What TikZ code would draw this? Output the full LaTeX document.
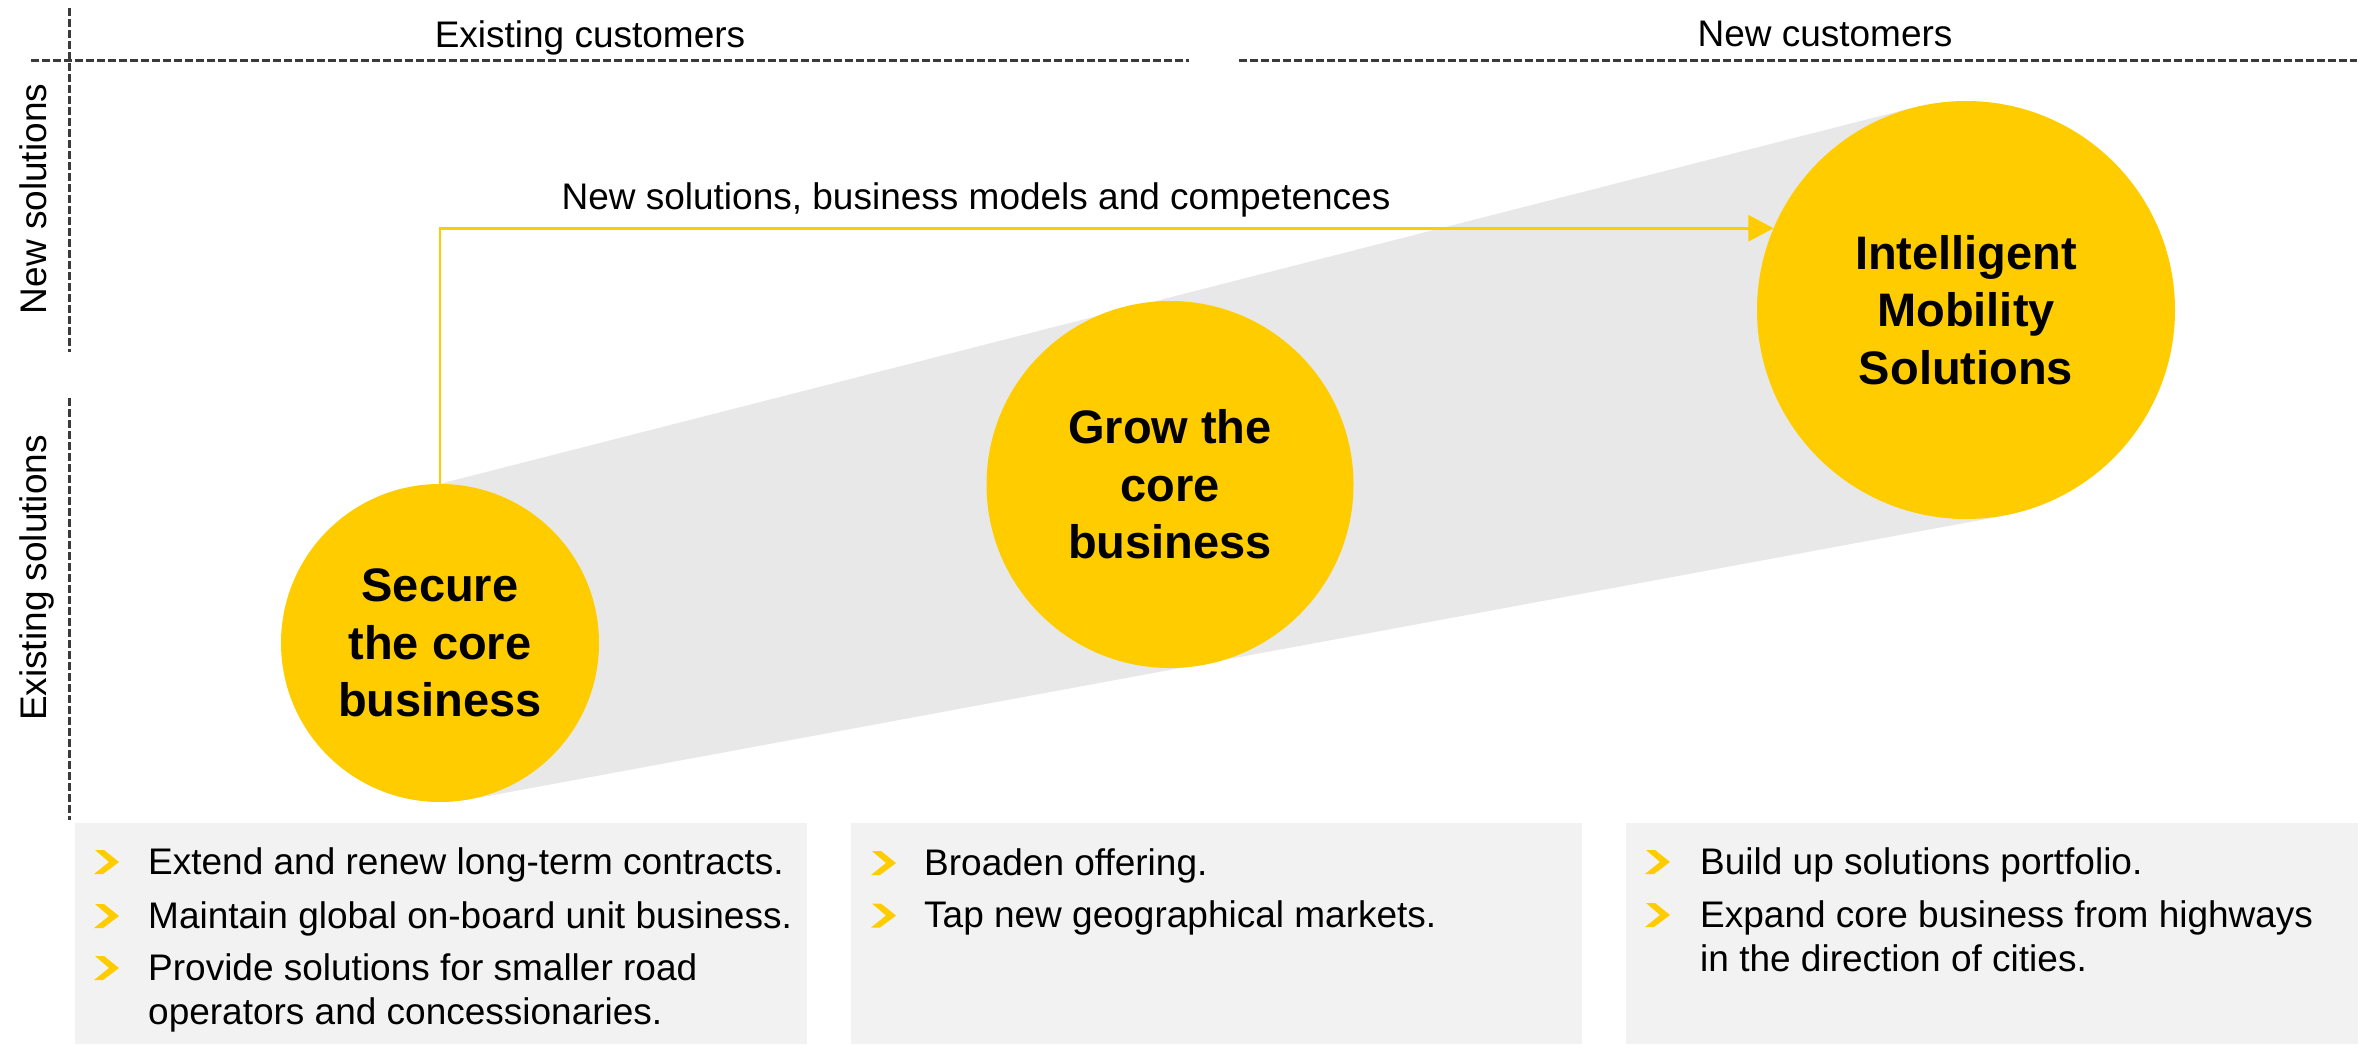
\documentclass[tikz,border=0pt]{standalone}
\usepackage{fontspec}
\setmainfont{Liberation Sans}
\usetikzlibrary{arrows.meta,backgrounds}
\definecolor{ylw}{HTML}{FFCC00}
\definecolor{bandgray}{HTML}{E8E8E8}
\definecolor{boxgray}{HTML}{F2F2F2}
\definecolor{dashgray}{HTML}{3A3A3A}
\newcommand{\chevron}[2]{%
  \fill[ylw] (#1+1,#2-24) -- (#1+10,#2-24) -- (#1+25,#2-12) -- (#1+9,#2) -- (#1,#2) -- (#1+15,#2-12) -- cycle;}
\begin{document}
\begin{tikzpicture}[x=1pt,y=-1pt,
  guide/.style={draw=dashgray,line width=3pt,dash pattern=on 7.5pt off 3.5pt},
  lbl/.style={font=\fontsize{37}{44.5}\selectfont,inner sep=0pt,anchor=base},
  side/.style={lbl,rotate=90},
  stage/.style={circle,fill=ylw,inner sep=0pt,font=\fontsize{47}{57.5}\selectfont\bfseries,align=center},
  infobox/.style={fill=boxgray,draw=none},
  item/.style={font=\fontsize{37}{44.5}\selectfont,inner sep=0pt,anchor=base west},
  flow/.style={draw=ylw,line width=2.7pt,-{Triangle[length=25pt,width=26pt]}}
]
\useasboundingbox (0,0) rectangle (2374,1044);

% guides
\draw[guide] (69.5,8) -- (69.5,352);
\draw[guide] (69.5,398) -- (69.5,820);
\draw[guide] (31,60) -- (1189,60);
\draw[guide] (1239,60) -- (2357,60);

% axis labels
\node[lbl] (ec) at (590,47) {Existing customers};
\node[lbl] (nc) at (1825,46) {New customers};
\node[side] (ns) at (46,199) {New solutions};
\node[side] (es) at (46,578) {Existing solutions};

% stages
\node[stage,minimum size=318pt] (c1) at (440,643) {Secure\\the core\\business};
\node[stage,minimum size=367pt] (c2) at (1170,484.5) {Grow the\\core\\business};
\node[stage,minimum size=418pt] (c3) at (1966,310) {Intelligent\\Mobility\\Solutions};

\begin{pgfonlayer}{background}
  \fill[bandgray] (c1.north) -- (c3.104) -- (c3.280) -- (c1.280) -- cycle;
\end{pgfonlayer}

% arrow
\draw[flow] (c1.north) |- (c3.157);
\node[lbl] (al) at (976,209) {New solutions, business models and competences};

% boxes
\fill[infobox] (75,823) rectangle (807,1044);
\fill[infobox] (851,823) rectangle (1582,1044);
\fill[infobox] (1626,823) rectangle (2358,1044);

% box 1
\chevron{94}{874}
\node[item] (b1a) at (148,874) {Extend and renew long-term contracts.};
\chevron{94}{928}
\node[item] (b1b) at (148,928) {Maintain global on-board unit business.};
\chevron{94}{980}
\node[item] (b1c) at (148,980) {Provide solutions for smaller road};
\node[item] (b1d) at (148,1024.5) {operators and concessionaries.};

% box 2
\chevron{871}{875}
\node[item] (b2a) at (924,875) {Broaden offering.};
\chevron{871}{927.5}
\node[item] (b2b) at (924,927.5) {Tap new geographical markets.};

% box 3
\chevron{1645}{874}
\node[item] (b3a) at (1700,874) {Build up solutions portfolio.};
\chevron{1645}{927}
\node[item] (b3b) at (1700,927) {Expand core business from highways};
\node[item] (b3c) at (1700,971.5) {in the direction of cities.};
\end{tikzpicture}
\end{document}
